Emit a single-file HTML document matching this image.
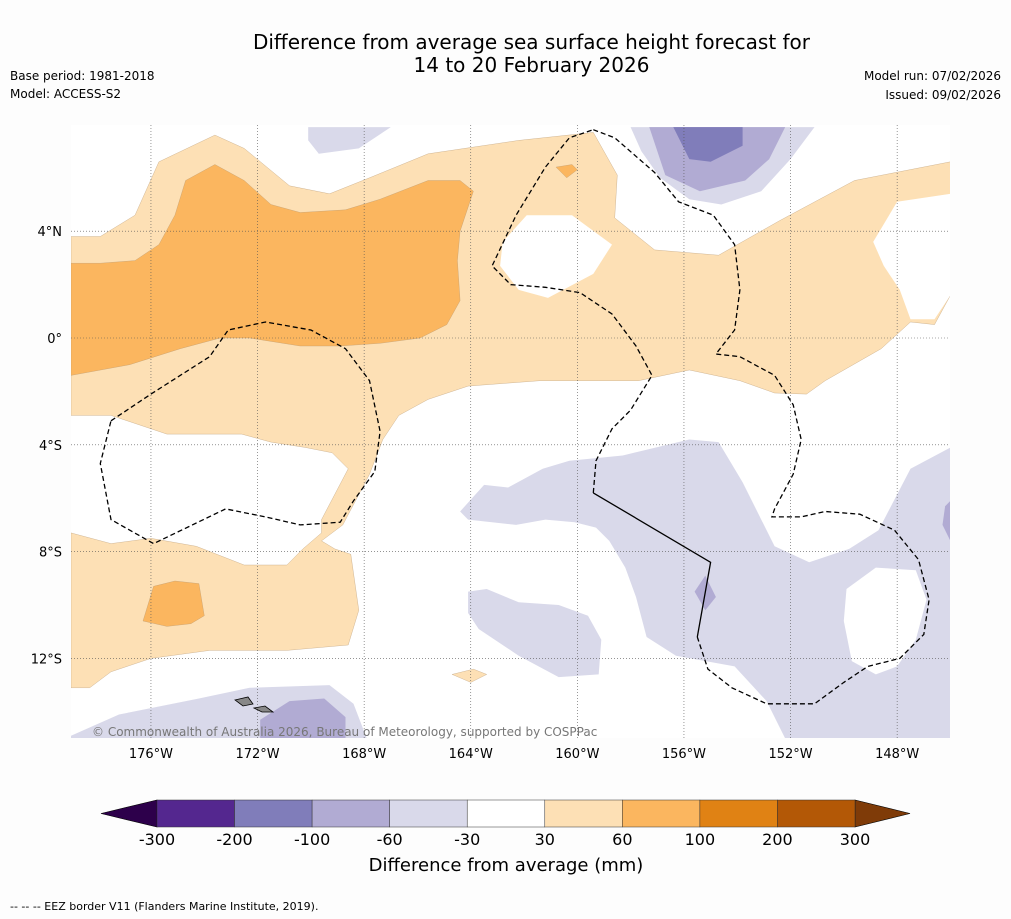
<!DOCTYPE html>
<html><head><meta charset="utf-8"><style>
body{margin:0;background:#fdfdfd;font-family:"Liberation Sans","DejaVu Sans",sans-serif;}
#wrap{position:relative;width:1011px;height:919px;overflow:hidden;background:#fdfdfd}
.t{position:absolute;color:#000;white-space:nowrap}
</style></head><body>
<div id="wrap">
<div class="t" style="left:0;width:1063px;top:31px;text-align:center;font-size:20px;line-height:23px;font-family:'DejaVu Sans',sans-serif">Difference from average sea surface height forecast for<br>14 to 20 February 2026</div>
<div class="t" style="left:10px;top:69px;font-size:12px;font-family:'DejaVu Sans',sans-serif">Base period: 1981-2018</div>
<div class="t" style="left:10px;top:87px;font-size:12px;font-family:'DejaVu Sans',sans-serif">Model: ACCESS-S2</div>
<div class="t" style="right:10px;top:69px;font-size:12px;font-family:'DejaVu Sans',sans-serif">Model run: 07/02/2026</div>
<div class="t" style="right:10px;top:88px;font-size:12px;font-family:'DejaVu Sans',sans-serif">Issued: 09/02/2026</div>
<svg id="svg" width="1011" height="919" style="position:absolute;left:0;top:0"></svg>
<div class="t" style="left:10px;top:900px;font-size:11px;font-family:'DejaVu Sans',sans-serif">--  --  -- EEZ border V11 (Flanders Marine Institute, 2019).</div>
</div>
<script>
// colorbar data
const levels=[-300,-200,-100,-60,-30,30,60,100,200,300];
const levelColors=['#54278f','#807dba','#b1abd3','#d9d9ea','#ffffff','#fde0b5','#fbb65f','#e08214','#b35806'];
const lonTicks=[-176,-172,-168,-164,-160,-156,-152,-148];
const latTicks=[4,0,-4,-8,-12];
// contour regions [lon,lat]
const light30=[[-179,3.8],[-177.9,3.8],[-176.6,4.6],[-175.7,6.6],[-173.6,7.6],[-172.5,7.1],[-170.8,5.7],[-169.3,5.4],[-167.8,6],[-165.6,6.9],[-162.2,7.4],[-159.4,7.7],[-158.5,6.1],[-158.6,4.5],[-157.1,3.3],[-154.7,3.1],[-152.4,4.4],[-149.6,5.9],[-146,6.6],[-146,1.6],[-146.6,0.5],[-147.5,0.6],[-148.6,-0.4],[-150.7,-1.6],[-151.4,-2.1],[-152.6,-2.060],[-153.9,-1.6],[-155.8,-1.2],[-157.7,-1.6],[-159.2,-1.6],[-161.4,-1.6],[-164.1,-1.8],[-165.6,-2.3],[-166.7,-2.9],[-167.3,-3.8],[-167.8,-5.1],[-168.8,-7],[-169.6,-7.6],[-169.1,-7.9],[-168.5,-8.1],[-168.2,-10.2],[-168.6,-11.5],[-170.9,-11.7],[-173.8,-11.7],[-176,-12],[-177.5,-12.5],[-178.3,-13.1],[-179,-13.1],[-179,-7.3],[-177.5,-7.7],[-176,-7.5],[-174.3,-7.8],[-172.5,-8.5],[-170.9,-8.5],[-170.3,-7.9],[-169.6,-7.3],[-169.6,-6.8],[-168.6,-4.9],[-169.2,-4.3],[-170.2,-4.1],[-171.5,-3.9],[-172.6,-3.6],[-175.4,-3.6],[-177.5,-2.9],[-179,-2.9]];
const holes30=[[[-162.8,3.6],[-161.9,4.6],[-160.2,4.6],[-158.7,3.5],[-159.4,2.4],[-161.1,1.5],[-162.2,1.8],[-162.9,2.7]],[[-148.9,3.6],[-148,5.1],[-146,5.4],[-146,1.6],[-146.6,0.7],[-147.5,0.7],[-147.9,1.8],[-148.5,2.7]],[[-179,7.2],[-178.6,6.6],[-179,6]]];
const dark60=[[-179,2.8],[-177.9,2.8],[-176.6,2.9],[-175.7,3.5],[-175.1,4.6],[-174.7,5.9],[-173.6,6.5],[-172.5,5.9],[-171.5,5],[-170.4,4.7],[-168.7,4.8],[-167.4,5.2],[-165.6,5.9],[-164.4,5.9],[-163.9,5.5],[-164.4,4],[-164.5,2.9],[-164.4,1.4],[-164.9,0.5],[-165.9,0],[-167.4,-0.2],[-168.9,-0.3],[-170.4,-0.3],[-172.3,0],[-173.4,0],[-174.9,-0.4],[-176.8,-1],[-179,-1.4]];
const dark60b=[[-176.3,-10.6],[-175.9,-9.3],[-175.1,-9.1],[-174.2,-9.2],[-174,-10.4],[-174.5,-10.7],[-175.4,-10.8]];
const dark60c=[[-160.8,6.4],[-160.2,6.5],[-160,6.3],[-160.4,6]];
const light30b=[[-164.7,-12.6],[-163.9,-12.4],[-163.4,-12.6],[-164,-12.9]];
const purp30=[[-164.4,-6.5],[-163.5,-5.5],[-162.6,-5.6],[-161.3,-4.9],[-160.3,-4.6],[-158.3,-4.4],[-155.8,-3.8],[-154.7,-3.9],[-153.8,-5.4],[-152.6,-7.8],[-151.3,-8.4],[-149.8,-7.9],[-148.7,-7.2],[-147.5,-4.9],[-146,-4.1],[-146,-15],[-152.2,-15],[-152.9,-13.6],[-154.1,-12.3],[-156.3,-11.9],[-157.4,-11.2],[-157.8,-9.7],[-158.2,-8.6],[-158.8,-7.6],[-159.3,-7.1],[-160.1,-6.9],[-161.2,-6.8],[-162.3,-7],[-164.1,-6.8]];
const purp30hole=[[-149.9,-9.4],[-148.8,-8.6],[-147.3,-8.7],[-146.9,-9.8],[-147.3,-11.3],[-148,-12.3],[-148.8,-12.6],[-149.7,-12.1],[-150,-10.6]];
const purp30b=[[-164.1,-9.5],[-163.4,-9.4],[-162.2,-9.9],[-160.7,-10],[-159.6,-10.4],[-159.1,-11.3],[-159.2,-12.6],[-160.7,-12.7],[-162.2,-11.9],[-163.7,-10.9],[-164.1,-10.3]];
const purp30c=[[-170.1,7.9],[-167,7.9],[-168.2,7.1],[-169.7,6.9],[-170.1,7.4]];
const purp30d=[[-158,7.9],[-151.1,7.9],[-152,6.7],[-153.1,5.5],[-154.6,5],[-155.8,5.2],[-156.9,6],[-157.6,7]];
const purp30e=[[-179,-14.9],[-177.2,-14.1],[-174.2,-13.5],[-172.3,-13.1],[-169.3,-13],[-168.4,-13.7],[-167.9,-15],[-179,-15]];
const purp60=[[-157.3,7.9],[-152.2,7.9],[-152.8,6.7],[-153.7,5.9],[-155.4,5.5],[-156.7,6.1]];
const purp60b=[[-171.9,-14.3],[-170.8,-13.6],[-169.5,-13.5],[-168.7,-14.2],[-168.7,-15],[-171.9,-15]];
const purp60c=[[-146.2,-6.3],[-146,-6.1],[-146,-7.6],[-146.3,-7]];
const purp60d=[[-155.6,-9.5],[-155.2,-8.9],[-154.8,-9.7],[-155.2,-10.2]];
const purp100=[[-156.4,7.9],[-153.8,7.9],[-153.8,7.2],[-155,6.6],[-155.8,6.7]];
const eez1=[[-159.4,7.8],[-158.6,7.5],[-157.1,6.2],[-156.2,5.1],[-154.9,4.6],[-154.1,3.5],[-153.9,1.8],[-154.1,0.3],[-154.8,-0.6],[-153.9,-0.7],[-152.6,-1.4],[-151.9,-2.5],[-151.6,-3.8],[-151.9,-5.1],[-152.6,-6.4],[-152.7,-6.7],[-151.6,-6.7],[-150.7,-6.5],[-149.4,-6.6],[-148.1,-7.2],[-147.2,-8.3],[-146.8,-9.8],[-147,-11.1],[-147.9,-12],[-149.1,-12.3],[-150,-12.9],[-151.1,-13.7],[-152.9,-13.7],[-154.2,-13.1],[-155.1,-12.4],[-155.5,-11.2]];
const eezSolid=[[-155.5,-11.2],[-155,-8.4],[-159.4,-5.8]];
const eez1b=[[-159.4,-5.8],[-159.3,-4.6],[-158.7,-3.4],[-158,-2.7],[-157.2,-1.4],[-157.8,-0.3],[-158.7,0.9],[-159.9,1.7],[-161.2,1.9],[-162.5,2],[-163.2,2.7],[-162.3,4.6],[-161.2,6.4],[-160.3,7.5],[-159.4,7.8]];
const eez2=[[-177.5,-3.1],[-176,-2.1],[-173.8,-0.7],[-173.1,0.3],[-171.7,0.6],[-170,0.3],[-168.7,-0.4],[-167.8,-1.6],[-167.4,-3.5],[-167.6,-5],[-168.4,-6.1],[-168.9,-6.9],[-170.4,-7],[-171.7,-6.7],[-173.2,-6.4],[-175.9,-7.7],[-177.5,-6.8],[-177.9,-4.7],[-177.5,-3.1]];
const X0=71,Y0=338,K=26.65,KY=26.7;
const px=lon=>X0+(lon+179)*K, py=lat=>Y0-lat*KY;
const ns='http://www.w3.org/2000/svg', svg=document.getElementById('svg');
function mk(tag,attrs,parent){const e=document.createElementNS(ns,tag);for(const k in attrs)e.setAttribute(k,attrs[k]);(parent||svg).appendChild(e);return e;}
const pts=a=>a.map(p=>px(p[0]).toFixed(1)+','+py(p[1]).toFixed(1)).join(' ');
const cp=mk('clipPath',{id:'mc'});
mk('rect',{x:71,y:125,width:879,height:613},cp);
mk('rect',{x:71,y:125,width:879,height:613,fill:'#fff'});
const g=mk('g',{'clip-path':'url(#mc)'});


function poly(a,fill,name){const e=mk('polygon',{points:pts(a),fill:fill,stroke:fill==='#ffffff'?'none':'#b0906a','stroke-width':fill==='#ffffff'?0:0.3},g);

return e;}
poly(light30,levelColors[5],'contour-30-60');
holes30.forEach(h=>poly(h,'#ffffff','contour-hole'));
poly(dark60,levelColors[6],'contour-60-100');
poly(dark60b,levelColors[6],'contour-60-100-south');
poly(dark60c,levelColors[6],'contour-60-100-small');
poly(light30b,levelColors[5],'contour-30-60-small');
[purp30,purp30b,purp30c,purp30d,purp30e].forEach(a=>{const e=poly(a,levelColors[3],'contour-neg30-neg60');e.setAttribute('stroke','none');});
poly(purp30hole,'#ffffff','contour-hole-east');
[purp60,purp60b,purp60c,purp60d].forEach(a=>{const e=poly(a,levelColors[2],'contour-neg60-neg100');e.setAttribute('stroke','none');});
{const e=poly(purp100,levelColors[1],'contour-neg100-neg200');e.setAttribute('stroke','none');}
// gridlines
lonTicks.forEach(l=>{const e=mk('line',{x1:px(l),x2:px(l),y1:125,y2:738,stroke:'#555','stroke-width':0.6,'stroke-dasharray':'1,2'},g);

});
latTicks.forEach(l=>{const e=mk('line',{x1:71,x2:950,y1:py(l),y2:py(l),stroke:'#555','stroke-width':0.6,'stroke-dasharray':'1,2'},g);

});
// EEZ
[eez1,eez1b,eez2].forEach(a=>{const e=mk('polyline',{points:pts(a),fill:'none',stroke:'#000','stroke-width':1.3,'stroke-dasharray':'5,3'},g);

});
{const e=mk('polyline',{points:pts(eezSolid),fill:'none',stroke:'#000','stroke-width':1.3},g);

}
// islands
{const e=mk('polygon',{points:'235,700 248,697 253,704 243,706',fill:'#888',stroke:'#000','stroke-width':0.8},g);


const e2=mk('polygon',{points:'254,708 265,706 273,712 262,712',fill:'#888',stroke:'#000','stroke-width':0.8},g);

}
// copyright
{const t=mk('text',{x:92,y:736,'font-size':12,fill:'#777','font-family':'DejaVu Sans, sans-serif'});t.textContent='© Commonwealth of Australia 2026, Bureau of Meteorology, supported by COSPPac';

}
// tick labels
lonTicks.forEach(l=>{const t=mk('text',{x:px(l),y:758,'font-size':13,'text-anchor':'middle','font-family':'DejaVu Sans, sans-serif'});t.textContent=Math.abs(l)+'°W';

});
latTicks.forEach(l=>{const t=mk('text',{x:62,y:py(l)+5,'font-size':13,'text-anchor':'end','font-family':'DejaVu Sans, sans-serif'});t.textContent=l===0?'0°':Math.abs(l)+'°'+(l>0?'N':'S');

});
// colorbar
const cbX0=157,cbX1=855,cbY=800,cbH=27,seg=(cbX1-cbX0)/levelColors.length;
{const e=mk('polygon',{points:`${cbX0},${cbY} ${cbX0},${cbY+cbH} 101,${cbY+cbH/2}`,fill:'#2d004b',stroke:'#000','stroke-width':0.6});


const e2=mk('polygon',{points:`${cbX1},${cbY} ${cbX1},${cbY+cbH} 910,${cbY+cbH/2}`,fill:'#7f3b08',stroke:'#000','stroke-width':0.6});

}
levelColors.forEach((c,i)=>{const e=mk('rect',{x:cbX0+i*seg,y:cbY,width:seg,height:cbH,fill:c,stroke:'#333','stroke-width':0.5});

});
levels.forEach((v,i)=>{const t=mk('text',{x:cbX0+i*seg,y:845,'font-size':16,'text-anchor':'middle','font-family':'DejaVu Sans, sans-serif'});t.textContent=v;

});
{const t=mk('text',{x:506,y:871,'font-size':18,'text-anchor':'middle','font-family':'DejaVu Sans, sans-serif'});t.textContent='Difference from average (mm)';

}
</script>
</body></html>
